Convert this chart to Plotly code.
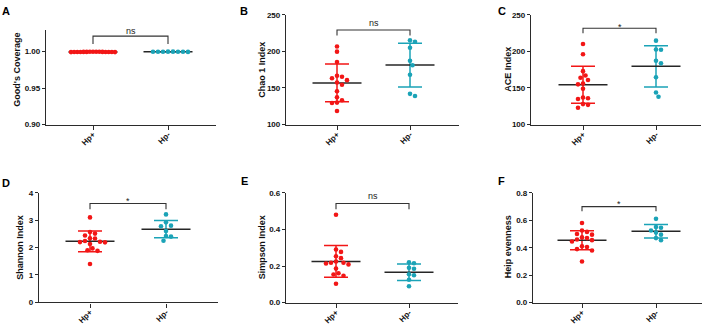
import numpy as np
import plotly.graph_objects as go

W, H = 708, 332

# ---------------- data ----------------
categories = ["Hp+", "Hp-"]
panel_letters = ["A", "B", "C", "D", "E", "F"]
y_titles = ["Good's Coverage", "Chao 1 Index", "ACE Index",
            "Shannon Index", "Simpson Index", "Heip evenness"]
significance = ["ns", "ns", "*", "*", "ns", "*"]

goods_pos = [0.9993, 0.9991, 0.9994, 0.9992, 0.9990, 0.9993, 0.9995, 0.9992,
             0.9991, 0.9994, 0.9993, 0.9990, 0.9992, 0.9994, 0.9991]
goods_neg = [0.9995, 0.9994, 0.9996, 0.9993, 0.9995, 0.9994, 0.9996, 0.9995]

chao1_pos = [206.6, 199.6, 185.4, 166.8, 165.4, 163.3, 160.7, 157.5,
             154.4, 145.5, 137.2, 133.2, 130.1, 129.6, 118.6]
chao1_neg = [215, 213, 205, 187, 181, 168, 142, 139]

ace_pos = [210, 196, 173, 167, 164, 161, 156, 155, 149, 137, 136, 135, 128, 127, 123]
ace_neg = [214.6, 202.6, 202.2, 187.2, 183.6, 164.6, 143.8, 138]

shannon_pos = [3.10, 2.57, 2.51, 2.44, 2.34, 2.33, 2.24, 2.21, 2.20, 2.19,
               2.13, 1.97, 1.90, 1.88, 1.40]
shannon_neg = [3.21, 2.92, 2.80, 2.78, 2.60, 2.42, 2.40, 2.25]

simpson_pos = [0.48, 0.29, 0.277, 0.253, 0.243, 0.225, 0.218, 0.218, 0.214,
               0.209, 0.186, 0.161, 0.154, 0.147, 0.103]
simpson_neg = [0.22, 0.215, 0.19, 0.185, 0.155, 0.15, 0.125, 0.09]

heip_pos = [0.58, 0.525, 0.515, 0.50, 0.495, 0.475, 0.47, 0.46, 0.455, 0.445,
            0.41, 0.405, 0.39, 0.38, 0.30]
heip_neg = [0.61, 0.55, 0.545, 0.525, 0.51, 0.495, 0.47, 0.455]

groups = [(goods_pos, goods_neg), (chao1_pos, chao1_neg), (ace_pos, ace_neg),
          (shannon_pos, shannon_neg), (simpson_pos, simpson_neg), (heip_pos, heip_neg)]

y_ranges = [[0.90, 1.0288], [100, 250], [100, 250], [0, 4], [0, 0.6], [0, 0.8]]
y_tickvals = [[0.90, 0.95, 1.00], [100, 150, 200, 250], [100, 150, 200, 250],
              [0, 1, 2, 3, 4], [0, 0.2, 0.4, 0.6], [0, 0.2, 0.4, 0.6, 0.8]]
y_tickformat = [".2f", "d", "d", "d", ".1f", ".1f"]

# ---------------- layout (pixels) ----------------
boxes = [(46, 27, 216, 124), (286, 11, 459, 124), (531, 11, 701, 124),
         (39, 194, 218, 306.7), (286, 194, 458, 307), (533, 194, 702, 307)]
cat_px = [(93, 168), (337, 410), (583, 656), (90, 166), (336, 409), (582, 656)]
bracket_px = [(33, 41, 27.5), (26.7, 32.3, 19.5), (25, 30, 23.5),
              (205, 211, 202), (205, 211, 197.5), (208.3, 213, 206)]
letter_px = [(6, 7), (244, 7), (502, 7), (6, 184), (244, 182), (501, 182)]
ytitle_px = [(17, 67.5), (262, 67.5), (508, 67.5), (20.5, 250), (262, 250), (508, 250)]

RED = "#F21616"
TEAL = "#1BA3B7"
AX = "#2b2b2b"
FONT = "Liberation Sans, Arial, sans-serif"


def px_x(x):
    return x / W


def px_y(y):
    return 1 - y / H


def swarm(values, ppu_y, d=5.0, maxw=22.0):
    vals = np.asarray(values, dtype=float)
    order = np.argsort(-vals, kind="stable")
    placed = []
    offs = np.zeros(len(vals))
    cands = [0.0]
    for k in range(1, 80):
        cands += [k * d / 2, -k * d / 2]
    for i in order:
        yp = vals[i] * ppu_y
        for c in cands:
            if all((c - a) ** 2 + (yp - b) ** 2 >= d * d * 0.98 for a, b in placed):
                break
        placed.append((c, yp))
        offs[i] = c
    m = np.max(np.abs(offs))
    if m > maxw:
        offs = offs * maxw / m
    return offs


fig = go.Figure()
layout = dict(width=W, height=H, margin=dict(l=0, r=0, t=0, b=0),
              paper_bgcolor="white", plot_bgcolor="white", showlegend=False,
              annotations=[], shapes=[])

for p in range(6):
    l, t, r, b = boxes[p]
    c0, c1 = cat_px[p]
    ppu_x = (c1 - c0)
    xr = [(l - c0) / ppu_x, (r - c0) / ppu_x]
    yr = y_ranges[p]
    ppu_y = (b - t) / (yr[1] - yr[0])
    sfx = "" if p == 0 else str(p + 1)
    xa, ya = "x" + sfx, "y" + sfx

    layout["xaxis" + sfx] = dict(
        domain=[px_x(l), px_x(r)], range=xr, anchor=ya,
        tickvals=[0, 1], ticktext=categories, tickangle=-45,
        ticks="outside", ticklen=4, tickwidth=1.2, tickcolor=AX,
        ticklabelstandoff=-3,
        showline=True, linecolor=AX, linewidth=1.3, showgrid=False, zeroline=False,
        tickfont=dict(family=FONT, size=8, color="#111", weight="bold"),
        fixedrange=True)
    layout["yaxis" + sfx] = dict(
        domain=[px_y(b), px_y(t)], range=yr, anchor=xa,
        tickvals=y_tickvals[p], tickformat=y_tickformat[p],
        ticks="outside", ticklen=3, tickwidth=1.2, tickcolor=AX,
        showline=True, linecolor=AX, linewidth=1.3, showgrid=False, zeroline=False,
        tickfont=dict(family=FONT, size=8, color="#111", weight="bold"),
        fixedrange=True)

    for gi, (vals, col) in enumerate(zip(groups[p], [RED, TEAL])):
        arr = np.asarray(vals, dtype=float)
        mean = arr.mean()
        sd = arr.std(ddof=1)
        # SD error bar
        fig.add_trace(go.Scatter(
            x=[gi], y=[mean], xaxis=xa, yaxis=ya, mode="markers",
            marker=dict(size=1, opacity=0),
            error_y=dict(type="data", array=[sd], color=col, thickness=1.5, width=12),
            hoverinfo="skip"))
        # mean line
        hw = 24.5 / ppu_x
        fig.add_trace(go.Scatter(
            x=[gi - hw, gi + hw], y=[mean, mean], xaxis=xa, yaxis=ya, mode="lines",
            line=dict(color="#262626", width=1.5), hoverinfo="skip"))
        # dots
        offs = swarm(arr, ppu_y)
        fig.add_trace(go.Scatter(
            x=gi + offs / ppu_x, y=arr, xaxis=xa, yaxis=ya, mode="markers",
            marker=dict(size=4.6, color=col, line=dict(width=0)), cliponaxis=False))

    # significance bracket
    ytop, yend, ytxt = bracket_px[p]
    layout["shapes"].append(dict(
        type="path", xref=xa, yref="paper",
        path=f"M 0 {px_y(yend)} L 0 {px_y(ytop)} L 1 {px_y(ytop)} L 1 {px_y(yend)}",
        line=dict(color="#333", width=1.1)))
    layout["annotations"].append(dict(
        x=0.5, xref=xa, y=px_y(ytxt), yref="paper", text=significance[p],
        showarrow=False, xanchor="center", yanchor="middle",
        font=dict(family=FONT, size=9, color="#222")))
    # panel letter
    lx, ly = letter_px[p]
    layout["annotations"].append(dict(
        x=px_x(lx), y=px_y(ly), xref="paper", yref="paper", text=panel_letters[p],
        showarrow=False, xanchor="center", yanchor="middle",
        font=dict(family=FONT, size=11, color="black", weight="bold")))
    # y title
    tx, ty = ytitle_px[p]
    layout["annotations"].append(dict(
        x=px_x(tx), y=px_y(ty), xref="paper", yref="paper", text=y_titles[p],
        showarrow=False, xanchor="center", yanchor="middle", textangle=-90,
        font=dict(family=FONT, size=9, color="#111", weight="bold")))

fig.update_layout(**layout)
fig.write_html("out.html", config={"displayModeBar": False},
               post_script="document.body.style.margin='0';document.body.style.padding='0';")
